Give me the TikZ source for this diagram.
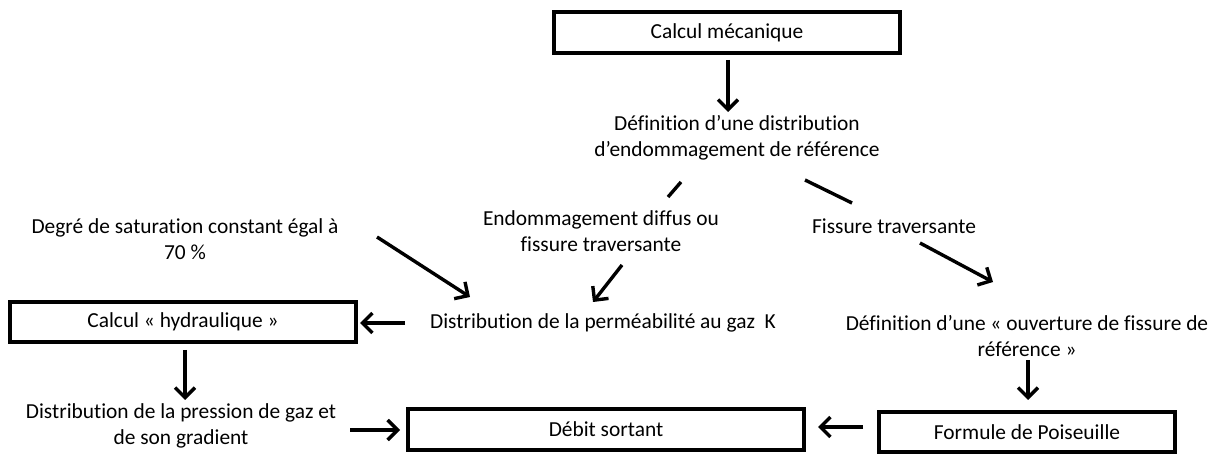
\documentclass[tikz,border=0pt]{standalone}
\usepackage{fontspec}
\setmainfont{Carlito}[Ligatures={NoCommon}]
\usetikzlibrary{arrows.meta}
\begin{document}
\begin{tikzpicture}[x=1pt,y=-1pt,
  every node/.style={font=\fontsize{21.4}{26}\selectfont, align=center, inner sep=0pt},
  boxnode/.style={draw, line width=3.4pt, minimum height=40pt},
  arr/.style={line width=3.4pt, -{Straight Barb[length=10pt,width=20pt]}},
  seg/.style={line width=3.4pt}]
\useasboundingbox (0,0) rectangle (1219,454);
% boxes
\node[boxnode, minimum width=346pt, minimum height=41pt] (mec) at (727,32.5) {Calcul mécanique};
\node[boxnode, minimum width=346pt] (hyd) at (183,322) {Calcul «~hydraulique~»};
\node[boxnode, minimum width=396pt, minimum height=41pt] (deb) at (606,429.5) {Débit sortant};
\node[boxnode, minimum width=296pt] (pois) at (1027,432) {Formule de Poiseuille};
% text nodes
\node (def) at (737,138) {Définition d’une distribution\\d’endommagement de référence};
\node (endo) at (601,231) {Endommagement diffus ou\\fissure traversante};
\node (fiss) at (894,226) {Fissure traversante};
\node (sat) at (185,239) {Degré de saturation constant égal à\\70 \%};
\node (perm) at (603,323) {Distribution de la perméabilité au gaz~ K};
\node (press) at (181,426) {Distribution de la pression de gaz et\\de son gradient};
\node (ouv) at (1027,336) {Définition d’une «~ouverture de fissure de\\référence~»};
% connector end points
\coordinate (a1s) at (728,60);   \coordinate (a1e) at (728,112);
\coordinate (l1s) at (681,182);  \coordinate (l1e) at (668,197);
\coordinate (l2s) at (805,180);  \coordinate (l2e) at (852,203);
\coordinate (a2s) at (377,237);  \coordinate (a2e) at (470,297);
\coordinate (a3s) at (622,265);  \coordinate (a3e) at (593,302);
\coordinate (a4s) at (405,323);  \coordinate (a4e) at (360,323);
\coordinate (a5s) at (920,243);  \coordinate (a5e) at (993,282);
\coordinate (a6s) at (185,350);  \coordinate (a6e) at (185,400);
\coordinate (a7s) at (350,430);  \coordinate (a7e) at (400,430);
\coordinate (a8s) at (863,427);  \coordinate (a8e) at (818,427);
\coordinate (a9s) at (1028,360); \coordinate (a9e) at (1028,400);
% connectors
\draw[arr] (a1s) -- (a1e);
\draw[seg] (l1s) -- (l1e);
\draw[seg] (l2s) -- (l2e);
\draw[arr] (a2s) -- (a2e);
\draw[arr] (a3s) -- (a3e);
\draw[arr] (a4s) -- (a4e);
\draw[arr] (a5s) -- (a5e);
\draw[arr] (a6s) -- (a6e);
\draw[arr] (a7s) -- (a7e);
\draw[arr] (a8s) -- (a8e);
\draw[arr] (a9s) -- (a9e);
\end{tikzpicture}
\end{document}
